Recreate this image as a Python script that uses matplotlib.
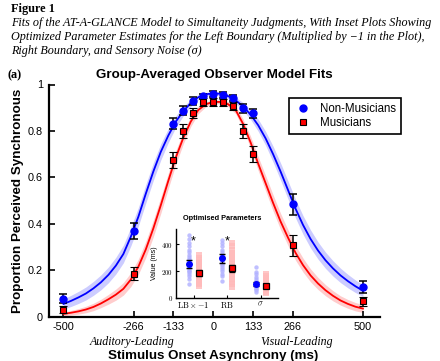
import numpy as np
import matplotlib
matplotlib.use('Agg')
import matplotlib.pyplot as plt
from matplotlib.lines import Line2D

plt.rcParams['font.family'] = ['Liberation Sans', 'DejaVu Sans']
plt.rcParams['mathtext.fontset'] = 'cm'

# ---------------- data ----------------
soa = [-500, -266, -133, -100, -66, -33, 0, 33, 66, 100, 133, 266, 500]
nonmus_prop = [0.078, 0.37, 0.832, 0.887, 0.929, 0.949, 0.959, 0.955, 0.94, 0.897, 0.876, 0.484, 0.128]
nonmus_err = [0.02, 0.035, 0.022, 0.02, 0.017, 0.012, 0.012, 0.012, 0.013, 0.018, 0.02, 0.045, 0.025]
mus_prop = [0.03, 0.186, 0.675, 0.80, 0.876, 0.923, 0.923, 0.923, 0.906, 0.80, 0.70, 0.307, 0.066]
mus_err = [0.015, 0.027, 0.035, 0.03, 0.022, 0.017, 0.017, 0.015, 0.017, 0.03, 0.035, 0.045, 0.02]

curve_soa = [-500, -475, -450, -425, -400, -375, -350, -325, -300, -275, -250, -225, -200, -175, -150,
             -125, -100, -75, -50, -25, 0, 25, 50, 75, 100, 125, 150, 175, 200, 225, 250, 275, 300,
             325, 350, 375, 400, 425, 450, 475, 500]
nonmus_fit = [0.055, 0.068, 0.083, 0.10, 0.122, 0.148, 0.18, 0.22, 0.27, 0.345, 0.43, 0.53, 0.625, 0.71, 0.78,
              0.84, 0.885, 0.92, 0.945, 0.958, 0.962, 0.96, 0.95, 0.932, 0.905, 0.87, 0.825, 0.768, 0.70,
              0.625, 0.545, 0.465, 0.395, 0.335, 0.285, 0.243, 0.208, 0.178, 0.153, 0.131, 0.112]
nonmus_band = [0.022, 0.024, 0.026, 0.028, 0.03, 0.032, 0.034, 0.036, 0.038, 0.04, 0.04, 0.04, 0.038, 0.035,
               0.03, 0.025, 0.02, 0.015, 0.011, 0.008, 0.007, 0.008, 0.01, 0.013, 0.017, 0.021, 0.026, 0.03,
               0.034, 0.037, 0.039, 0.04, 0.04, 0.039, 0.037, 0.035, 0.033, 0.031, 0.029, 0.027, 0.025]
mus_fit = [0.012, 0.017, 0.023, 0.031, 0.042, 0.057, 0.075, 0.095, 0.12, 0.16, 0.215, 0.29, 0.38, 0.48, 0.585,
           0.685, 0.77, 0.84, 0.89, 0.915, 0.925, 0.925, 0.915, 0.89, 0.83, 0.75, 0.66, 0.575, 0.49,
           0.41, 0.34, 0.275, 0.222, 0.178, 0.143, 0.114, 0.09, 0.07, 0.055, 0.043, 0.035]
mus_band = [0.008, 0.01, 0.012, 0.014, 0.016, 0.018, 0.021, 0.024, 0.027, 0.03, 0.033, 0.035, 0.036, 0.035,
            0.033, 0.03, 0.026, 0.021, 0.016, 0.011, 0.008, 0.008, 0.011, 0.016, 0.021, 0.026, 0.03, 0.033,
            0.035, 0.035, 0.034, 0.032, 0.03, 0.028, 0.026, 0.024, 0.022, 0.02, 0.019, 0.018, 0.017]

x_ticks = [-500, -266, -133, 0, 133, 266, 500]
y_ticks = [0, 0.2, 0.4, 0.6, 0.8, 1]
y_ticklabels = ['0', '0.2', '0.4', '0.6', '0.8', '1']

param_labels = [r'$\mathrm{LB}\times\mathrm{-1}$', r'$\mathrm{RB}$', r'$\sigma$']
nonmus_param = [250, 295, 103]
nonmus_param_err = [30, 32, 13]
mus_param = [187, 220, 90]
mus_param_err = [22, 28, 12]
nonmus_lb_ind = [470, 440, 410, 385, 360, 340, 320, 305, 290, 280, 270, 260, 250, 240, 230, 220, 210, 200, 190, 175, 160, 140, 100]
mus_lb_ind = [320, 300, 280, 265, 250, 235, 220, 210, 200, 190, 180, 170, 160, 150, 140, 130, 120, 110, 100, 90]
nonmus_rb_ind = [430, 410, 385, 360, 340, 320, 305, 295, 285, 275, 265, 255, 245, 230, 215, 200, 180, 160, 125]
mus_rb_ind = [410, 385, 360, 335, 310, 290, 270, 250, 235, 220, 205, 190, 175, 160, 140, 120, 100, 80]
nonmus_sig_ind = [230, 195, 175, 155, 140, 125, 115, 105, 95, 85, 75, 65, 55, 45]
mus_sig_ind = [180, 165, 150, 135, 125, 115, 105, 95, 85, 75, 65, 55, 45, 35]

BLUE = '#0000ff'
RED = '#ff0000'

# ---------------- figure ----------------
W, H = 440, 361
fig = plt.figure(figsize=(W / 100, H / 100), dpi=100)

def fx(px):
    return px / W

def fy(py):
    return 1 - py / H

# caption
fig.text(fx(11), fy(9), 'Figure 1', fontsize=8.8, fontweight='bold', family='Liberation Serif', va='center')
cap = ['Fits of the AT-A-GLANCE Model to Simultaneity Judgments, With Inset Plots Showing',
       'Optimized Parameter Estimates for the Left Boundary (Multiplied by \u22121 in the Plot),',
       'Right Boundary, and Sensory Noise (\u03c3)']
for i, line in enumerate(cap):
    fig.text(fx(11), fy(23 + 14 * i), line, fontsize=8.75, fontstyle='italic',
             family='Liberation Serif', va='center')

fig.text(fx(8), fy(75), '(a)', fontsize=8.8, fontweight='bold', family='Liberation Serif', va='center')

ax = fig.add_axes([fx(48.5), fy(316.7), fx(380) - fx(48.5), fy(84.5) - fy(316.7)])
ax.set_xlim(-550, 557)
ax.set_ylim(0, 1)

ax.fill_between(curve_soa, np.array(nonmus_fit) - np.array(nonmus_band),
                np.array(nonmus_fit) + np.array(nonmus_band), color=BLUE, alpha=0.2, lw=0)
ax.fill_between(curve_soa, np.array(mus_fit) - np.array(mus_band),
                np.array(mus_fit) + np.array(mus_band), color=RED, alpha=0.2, lw=0)
ax.plot(curve_soa, nonmus_fit, color=BLUE, lw=1.3)
ax.plot(curve_soa, mus_fit, color=RED, lw=1.3)

ax.errorbar(soa, nonmus_prop, yerr=nonmus_err, fmt='o', color=BLUE, ms=5, mec=BLUE,
            ecolor='black', elinewidth=1.1, capsize=3, capthick=1.1, zorder=5)
ax.errorbar(soa, mus_prop, yerr=mus_err, fmt='s', color=RED, ms=5, mec='black', mew=0.8,
            ecolor='black', elinewidth=1.1, capsize=3, capthick=1.1, zorder=5)

for s in ['top', 'right']:
    ax.spines[s].set_visible(False)
for s in ['left', 'bottom']:
    ax.spines[s].set_linewidth(1.6)
ax.set_xticks(x_ticks)
ax.set_xticklabels([str(t) for t in x_ticks], fontsize=7.8)
ax.set_yticks(y_ticks)
ax.set_yticklabels(y_ticklabels, fontsize=7.8)
ax.tick_params(direction='in', length=4, width=1.2, pad=4)
fig.text(fx(214), fy(75), 'Group-Averaged Observer Model Fits', fontsize=9.6, fontweight='bold',
         ha='center', va='center')
fig.text(fx(18), fy(201), 'Proportion Perceived Synchronous', fontsize=9.6, fontweight='bold',
         ha='center', va='center', rotation=90)
fig.text(fx(213), fy(355.5), 'Stimulus Onset Asynchrony (ms)', fontsize=9.6, fontweight='bold',
         ha='center', va='center')
fig.text(fx(132), fy(341.5), 'Auditory-Leading', fontsize=8.6, fontstyle='italic',
         family='Liberation Serif', ha='center', va='center')
fig.text(fx(297), fy(341.5), 'Visual-Leading', fontsize=8.6, fontstyle='italic',
         family='Liberation Serif', ha='center', va='center')

handles = [Line2D([], [], marker='o', ls='none', color=BLUE, ms=5),
           Line2D([], [], marker='s', ls='none', color=RED, mec='black', mew=0.8, ms=5)]
leg = ax.legend(handles, ['Non-Musicians', 'Musicians'], loc='upper left',
                bbox_to_anchor=(fx(289), fy(98)), bbox_transform=fig.transFigure,
                fontsize=8.3, frameon=True, fancybox=False, borderaxespad=0, handletextpad=0.7,
                handlelength=1.6, borderpad=0.4, labelspacing=0.25, framealpha=1)
leg.get_frame().set_edgecolor('black')
leg.get_frame().set_linewidth(1.2)

# ---------------- inset ----------------
ins = fig.add_axes([fx(176), fy(297.7), fx(278) - fx(176), fy(229) - fy(297.7)])
ins.set_xlim(0.479, 3.515)
ins.set_ylim(0, 515)
pos = np.arange(1, 4)
b_off, r_off = -0.14, 0.16
for i, vals in enumerate([nonmus_lb_ind, nonmus_rb_ind, nonmus_sig_ind]):
    ins.scatter([pos[i] + b_off] * len(vals), vals, s=10, color='#b0b0ff', alpha=0.8, lw=0, zorder=2)
for i, vals in enumerate([mus_lb_ind, mus_rb_ind, mus_sig_ind]):
    ins.scatter([pos[i] + r_off] * len(vals), vals, s=16, marker='s', color='#ffbaba', alpha=0.8, lw=0, zorder=2)
ins.errorbar(pos + b_off, nonmus_param, yerr=nonmus_param_err, fmt='o', color=BLUE, ms=4, ecolor='black',
             elinewidth=1.0, capsize=2.2, capthick=1.0, zorder=5)
ins.errorbar(pos + r_off, mus_param, yerr=mus_param_err, fmt='s', color=RED, ms=4.5, mec='black', mew=0.9,
             ecolor='black', elinewidth=1.0, capsize=2.2, capthick=1.0, zorder=5)
for xs in [1, 2]:
    ins.text(xs, 420, '*', fontsize=9, ha='center', va='center', color='black')
for s in ['top', 'right']:
    ins.spines[s].set_visible(False)
for s in ['left', 'bottom']:
    ins.spines[s].set_linewidth(1.0)
ins.set_xticks(pos)
ins.set_xticklabels(param_labels, fontsize=6)
ins.set_yticks([0, 200, 400])
ins.set_yticklabels([r'$0$', r'$200$', r'$400$'], fontsize=5)
ins.tick_params(direction='in', length=2.5, width=0.8, pad=2)
ins.set_ylabel('Value (ms)', fontsize=5, labelpad=2)
fig.text(fx(222), fy(219), 'Optimised Parameters', fontsize=5.3, fontweight='bold', ha='center', va='center')

fig.savefig('out.png', dpi=100)
